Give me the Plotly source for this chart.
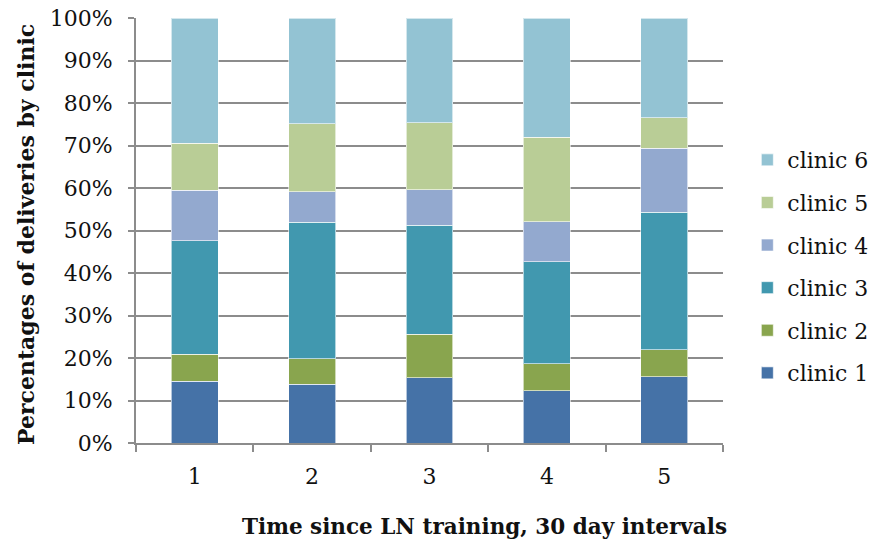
import plotly.graph_objects as go

intervals = ["1", "2", "3", "4", "5"]
clinic_names = ["clinic 1", "clinic 2", "clinic 3", "clinic 4", "clinic 5", "clinic 6"]
clinic1 = [14.5, 13.8, 15.4, 12.3, 15.6]
clinic2 = [6.4, 6.0, 10.2, 6.3, 6.3]
clinic3 = [26.7, 32.1, 25.6, 24.0, 32.4]
clinic4 = [11.9, 7.2, 8.4, 9.5, 15.0]
clinic5 = [11.0, 16.0, 15.7, 19.9, 7.2]
clinic6 = [29.5, 24.9, 24.7, 28.0, 23.5]
series = [clinic1, clinic2, clinic3, clinic4, clinic5, clinic6]
colors = ["#4572A7", "#89A54E", "#4198AF", "#93A9CF", "#B9CD96", "#93C3D3"]
x_title = "Time since LN training, 30 day intervals"
y_title = "Percentages of deliveries by clinic"

FONT = "DejaVu Serif"

fig = go.Figure()
n = len(series)
for i, (name, vals) in enumerate(zip(clinic_names, series)):
    fig.add_trace(go.Bar(
        x=intervals, y=vals, name=name,
        marker=dict(color=colors[i], line=dict(color="rgba(255,255,255,0.6)", width=1)),
        width=0.4, legendgroup=name, legendrank=n - i,
    ))

fig.update_layout(
    barmode="stack",
    width=871, height=544,
    margin=dict(l=136, r=148, t=18, b=101),
    paper_bgcolor="white", plot_bgcolor="white",
    font=dict(family=FONT, size=22, color="#111"),
    legend=dict(
        xref="container", yref="container",
        x=0.858, xanchor="left", y=0.51, yanchor="middle",
        traceorder="grouped", tracegroupgap=11,
        font=dict(family=FONT, size=22, color="#111"),
        bgcolor="rgba(0,0,0,0)",
    ),
    xaxis=dict(
        type="category", tickson="boundaries", automargin=False,
        showgrid=False, showline=True, linecolor="#8c8c8c", linewidth=2,
        ticks="outside", ticklen=7, tickwidth=2, tickcolor="#8c8c8c",
        tickfont=dict(family=FONT, size=22), ticklabelstandoff=13,
    ),
    yaxis=dict(
        range=[0, 100], dtick=10, ticksuffix="%", automargin=False,
        showgrid=True, gridcolor="#8c8c8c", gridwidth=2,
        showline=True, linecolor="#8c8c8c", linewidth=2,
        ticks="outside", ticklen=6, tickwidth=2, tickcolor="#8c8c8c",
        tickfont=dict(family=FONT, size=22), ticklabelstandoff=11,
        zeroline=False,
    ),
    annotations=[
        dict(text="<b>" + x_title + "</b>", xref="paper", yref="paper",
             x=0.5945, y=-0.1953, xanchor="center", yanchor="middle",
             showarrow=False, font=dict(family=FONT, size=21.5, color="#111")),
        dict(text="<b>" + y_title + "</b>", xref="paper", yref="paper",
             x=-0.1874, y=0.4918, xanchor="center", yanchor="middle",
             textangle=-90, showarrow=False,
             font=dict(family=FONT, size=22, color="#111")),
    ],
)

fig.write_html("out.html", config={"displayModeBar": False},
               post_script="document.body.style.margin='0px';")
